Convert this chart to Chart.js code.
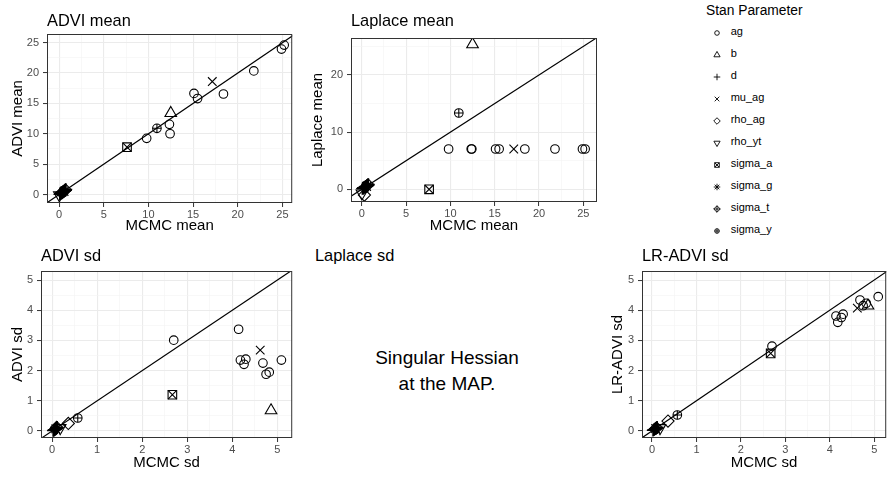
<!DOCTYPE html>
<html><head><meta charset="utf-8">
<script src="https://cdn.jsdelivr.net/npm/chart.js@4"></script>
<style>
html,body{margin:0;padding:0;background:#fff;}
body{width:894px;height:477px;overflow:hidden;position:relative;font-family:"Liberation Sans",Arial,Helvetica,sans-serif;}
.t{position:absolute;white-space:nowrap;color:#000;}
</style></head><body>
<script>
// ---------- DATA ----------
const paramNames = ['ag','b','d','mu_ag','rho_ag','rho_yt','sigma_a','sigma_g','sigma_t','sigma_y'];
const paramShapes = ['circle','triangle','plus','cross','diamond','triangleDown','squareCross','asterisk','diamondPlus','circlePlus'];

// one entry per posterior quantity
const pointParam = ['ag','ag','ag','ag','ag','ag','ag','ag','ag','b','mu_ag','rho_ag','rho_yt','sigma_a','sigma_g','sigma_t','sigma_y',
  'd','d','d','d','d','d','d','d','d','d','d','d','d','d','d','d','d','d','d','d','d','d'];
const mcmcMean = [9.8,12.35,12.42,15.1,15.5,18.4,21.8,24.9,25.2,12.5,17.15,0.3,0.02,7.6,0.55,0.7,10.95,
  0.05,0.1,0.14,0.18,0.22,0.26,0.3,0.34,0.38,0.42,0.46,0.5,0.54,0.58,0.62,0.66,0.7,0.74,0.2,0.4,0.6,0.78];
const adviMean = [9.25,11.55,10.0,16.65,15.8,16.55,20.35,23.95,24.6,13.4,18.6,0.25,-0.1,7.8,0.5,0.75,10.9,
  0.02,0.12,0.2,0.1,0.3,0.2,0.38,0.28,0.45,0.35,0.52,0.42,0.6,0.5,0.68,0.58,0.75,0.65,0.3,0.5,0.7,0.85];
const laplaceMean = [7.05,7.05,7.05,7.05,7.05,7.05,7.05,7.05,7.05,25.35,7.05,-1.0,-0.7,0.0,0.5,0.8,13.35,
  0.1,0.15,0.25,0.12,0.3,0.22,0.4,0.3,0.45,0.38,0.55,0.45,0.62,0.52,0.7,0.6,0.78,0.68,0.32,0.5,0.72,0.88];
const mcmcSd = [2.7,4.14,4.18,4.26,4.3,4.68,4.75,4.82,5.09,4.86,4.62,0.36,0.18,2.67,0.08,0.1,0.57,
  0.02,0.03,0.04,0.05,0.05,0.06,0.07,0.07,0.08,0.08,0.09,0.09,0.1,0.1,0.11,0.11,0.12,0.12,0.04,0.06,0.08,0.1];
const adviSd = [3.01,3.37,2.35,2.21,2.38,2.25,1.88,1.95,2.35,0.68,2.68,0.25,0.1,1.2,0.07,0.12,0.43,
  0.01,0.02,0.03,0.03,0.05,0.04,0.06,0.05,0.07,0.08,0.08,0.09,0.09,0.1,0.1,0.11,0.11,0.12,0.02,0.04,0.06,0.08];
const lrAdviSd = [2.81,3.81,3.6,3.76,3.87,4.34,4.15,4.23,4.45,4.15,4.07,0.33,0.1,2.57,0.08,0.1,0.53,
  0.02,0.03,0.04,0.05,0.05,0.06,0.07,0.07,0.08,0.08,0.09,0.09,0.1,0.1,0.11,0.11,0.12,0.12,0.04,0.06,0.08,0.1];

const meanTicks = [0,5,10,15,20,25];
const laplaceTicks = [0,10,20];
const sdTicks = [0,1,2,3,4,5];
const refLine = [-10, 40];   // y = x reference line end values

// ---------- STYLE ----------
const FONT = '"Liberation Sans", Arial, Helvetica, sans-serif';
Chart.defaults.font.family = FONT;
const R = 4.3;                 // base marker radius (R pch convention)
const S2 = Math.SQRT2;
// Chart.js point-style layers that build each ggplot shape
const shapeLayers = {
  circle:       [{style:'circle',   r:R}],
  triangle:     [{style:'triangle', r:1.555*R}],
  triangleDown: [{style:'triangle', r:1.555*R, rot:180}],
  plus:         [{style:'cross',    r:S2*R}],
  cross:        [{style:'crossRot', r:S2*R}],
  diamond:      [{style:'rectRot',  r:S2*R}],
  squareCross:  [{style:'rect',     r:S2*R}, {style:'crossRot', r:S2*R}],
  asterisk:     [{style:'star',     r:S2*R}],
  diamondPlus:  [{style:'rectRot',  r:S2*R}, {style:'cross', r:S2*R}],
  circlePlus:   [{style:'circle',   r:R}, {style:'cross', r:R}]
};

function drawShape(g, shape, cx, cy, Rr) {
  g.beginPath();
  const plus = a => { g.moveTo(cx-a,cy); g.lineTo(cx+a,cy); g.moveTo(cx,cy-a); g.lineTo(cx,cy+a); };
  const times = a => { g.moveTo(cx-a,cy-a); g.lineTo(cx+a,cy+a); g.moveTo(cx-a,cy+a); g.lineTo(cx+a,cy-a); };
  const diamond = a => { g.moveTo(cx,cy-a); g.lineTo(cx+a,cy); g.lineTo(cx,cy+a); g.lineTo(cx-a,cy); g.closePath(); };
  switch (shape) {
    case 'circle': g.arc(cx,cy,Rr,0,Math.PI*2); break;
    case 'triangle': { const r=1.555*Rr; g.moveTo(cx,cy-r); g.lineTo(cx+0.866*r,cy+0.5*r); g.lineTo(cx-0.866*r,cy+0.5*r); g.closePath(); break; }
    case 'triangleDown': { const r=1.555*Rr; g.moveTo(cx,cy+r); g.lineTo(cx+0.866*r,cy-0.5*r); g.lineTo(cx-0.866*r,cy-0.5*r); g.closePath(); break; }
    case 'plus': plus(S2*Rr); break;
    case 'cross': times(Rr); break;
    case 'diamond': diamond(S2*Rr); break;
    case 'squareCross': g.rect(cx-Rr,cy-Rr,2*Rr,2*Rr); times(Rr); break;
    case 'asterisk': times(Rr); plus(S2*Rr); break;
    case 'diamondPlus': diamond(S2*Rr); plus(S2*Rr); break;
    case 'circlePlus': g.moveTo(cx+Rr,cy); g.arc(cx,cy,Rr,0,Math.PI*2); plus(Rr); break;
  }
  g.stroke();
}

function withMinor(majors, min, max) {
  const step = majors[1]-majors[0];
  const vals = new Set(majors.filter(v=>v>=min && v<=max));
  majors.forEach(m => [m-step/2, m+step/2].forEach(v => { if (v>=min && v<=max) vals.add(v); }));
  return [...vals].sort((a,b)=>a-b);
}
function axisOpts(min, max, majors, title, isX, size, pad) {
  const all = withMinor(majors, min, max);
  const isMajor = v => majors.some(m => Math.abs(m-v) < 1e-9);
  const maj = c => c.tick && isMajor(c.tick.value);
  return {
    type:'linear', min, max, bounds:'data',
    afterBuildTicks: s => { s.ticks = all.map(v => ({value:v})); },
    afterFit: s => { if (isX) s.height = size; else s.width = size; },
    border:{display:false},
    grid:{ color: c => maj(c) ? '#ebebeb' : '#f4f4f4', lineWidth: c => maj(c) ? 1.1 : 0.6,
           tickColor: c => maj(c) ? '#333333' : 'rgba(0,0,0,0)', tickLength:4, tickWidth:1 },
    ticks:{ autoSkip:false, maxRotation:0, minRotation:0, padding: isX ? 1 : 4, color:'#4d4d4d',
            font:{size:11}, callback: v => isMajor(v) ? String(v) : '' },
    title:{ display:true, text:title, color:'#000', font:{size:15}, padding: pad }
  };
}
const panelDeco = {
  id:'panelDeco',
  afterDraw(chart, args, o) {
    const {ctx, chartArea:a} = chart;
    ctx.save();
    ctx.strokeStyle='#333333'; ctx.lineWidth=1;
    ctx.strokeRect(a.left+0.5, a.top+0.5, a.right-a.left-1, a.bottom-a.top-1);
    ctx.fillStyle='#000'; ctx.font='16.4px '+FONT; ctx.textBaseline='alphabetic'; ctx.textAlign='left';
    ctx.fillText(o.title, a.left, o.baseline);
    ctx.restore();
  }
};

function buildPanel(p) {
  const cv = document.createElement('canvas');
  cv.width=p.w; cv.height=p.h;
  cv.style.cssText = `position:absolute;left:${p.left}px;top:${p.top}px;width:${p.w}px;height:${p.h}px`;
  document.body.appendChild(cv);
  const datasets = [{ label:'y = x', data: refLine.map(v=>({x:v,y:v})), showLine:true, borderColor:'#000',
    borderWidth:1.2, pointRadius:0, pointHoverRadius:0 }];
  paramNames.forEach((name,k) => {
    const data = [];
    pointParam.forEach((q,i) => { if (q===name) data.push({x:p.xs[i], y:p.ys[i]}); });
    shapeLayers[paramShapes[k]].forEach(layer => {
      datasets.push({ label:name, data, showLine:false, pointStyle:layer.style, pointRadius:layer.r,
        pointRotation: layer.rot || 0, pointBorderColor:'#000', pointBackgroundColor:'rgba(0,0,0,0)',
        pointBorderWidth:1.1 });
    });
  });
  new Chart(cv, {
    type:'scatter', data:{datasets},
    options:{ responsive:false, animation:false, events:[], devicePixelRatio:1,
      layout:{padding:p.pad},
      plugins:{ legend:{display:false}, tooltip:{enabled:false}, panelDeco:{title:p.title, baseline:p.tb} },
      scales:{
        x: axisOpts(p.x[0], p.x[1], p.xt, p.xl, true, p.H, {top:0, bottom:5}),
        y: axisOpts(p.y[0], p.y[1], p.yt, p.yl, false, p.W, {top:9, bottom:0})
      } },
    plugins:[panelDeco]
  });
}

buildPanel({left:0, top:0, w:300, h:240, W:47, H:37, pad:{left:0,right:5,top:34,bottom:0},
  x:[-1.36,26.1], y:[-1.4,26.43], xt:meanTicks, yt:meanTicks, xl:'MCMC mean', yl:'ADVI mean',
  title:'ADVI mean', tb:25.7, xs:mcmcMean, ys:adviMean});
buildPanel({left:300, top:0, w:310, h:240, W:51, H:38, pad:{left:0,right:13,top:38,bottom:0},
  x:[-1.21,26.54], y:[-2.22,26.47], xt:meanTicks, yt:laplaceTicks, xl:'MCMC mean', yl:'Laplace mean',
  title:'Laplace mean', tb:26, xs:mcmcMean, ys:laplaceMean});
buildPanel({left:0, top:240, w:300, h:237, W:41, H:39, pad:{left:0,right:3,top:31,bottom:0},
  x:[-0.246,5.33], y:[-0.232,5.3], xt:sdTicks, yt:sdTicks, xl:'MCMC sd', yl:'ADVI sd',
  title:'ADVI sd', tb:20.7, xs:mcmcSd, ys:adviSd});
buildPanel({left:600, top:240, w:294, h:237, W:42, H:39, pad:{left:0,right:1,top:31,bottom:0},
  x:[-0.225,5.27], y:[-0.232,5.3], xt:sdTicks, yt:sdTicks, xl:'MCMC sd', yl:'LR-ADVI sd',
  title:'LR-ADVI sd', tb:20.7, xs:mcmcSd, ys:lrAdviSd});

// ---------- TEXT PANEL & LEGEND ----------
function text(str, left, baseline, size, extra) {
  const d = document.createElement('div'); d.className='t'; d.textContent=str;
  d.style.cssText += `;font-size:${size}px;line-height:${size}px;left:${left}px;top:${baseline-0.8465*size}px;` + (extra||'');
  document.body.appendChild(d); return d;
}
text('Laplace sd', 315, 260.7, 16.4);
text('Singular Hessian', 300, 364, 19, 'width:294px;text-align:center;');
text('at the MAP.', 300, 390, 19, 'width:294px;text-align:center;');

text('Stan Parameter', 706, 16, 13.8);
paramNames.forEach((name,k) => {
  const cy = Math.round(33.3 + k*22.0);
  const c = document.createElement('canvas'); c.width = 16; c.height = 16;
  c.style.cssText = `position:absolute;left:709px;top:${cy-8}px;`;
  const g = c.getContext('2d'); g.strokeStyle='#000'; g.lineWidth=0.9;
  drawShape(g, paramShapes[k], 8, 8, 2.3);
  document.body.appendChild(c);
  text(name, 730.7, cy+2.8, 11);
});
</script>
</body></html>
